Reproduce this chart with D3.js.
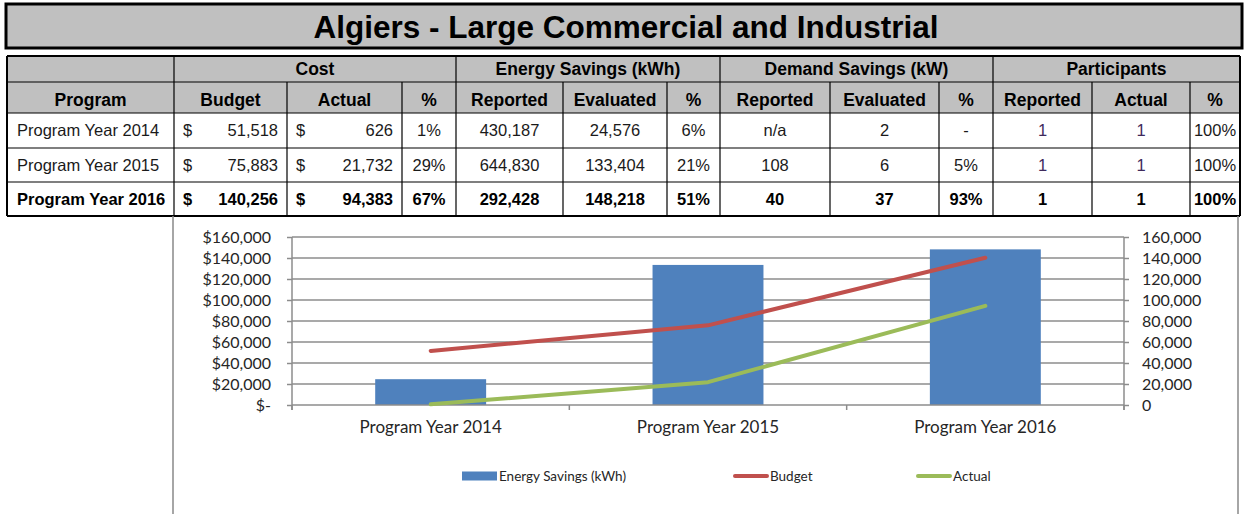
<!DOCTYPE html>
<html>
<head>
<meta charset="utf-8">
<script src="https://cdn.jsdelivr.net/npm/d3@7"></script>
<style>
  body { margin: 0; background: #fff; }
  svg text { font-family: "Liberation Sans", Arial, sans-serif; }
  .chart text { font-family: Lato, "Open Sans", sans-serif; fill: #262626; }
</style>
</head>
<body>
<svg id="page" width="1245" height="514"></svg>
<script>
// ---- data ----
var title = "Algiers - Large Commercial and Industrial"
var categories = ["Program Year 2014", "Program Year 2015", "Program Year 2016"]
var budget = [51518, 75883, 140256]
var actual = [626, 21732, 94383]
var costPct = ["1%", "29%", "67%"]
var energyReported = [430187, 644830, 292428]
var energyEvaluated = [24576, 133404, 148218]
var energyPct = ["6%", "21%", "51%"]
var demandReported = ["n/a", "108", "40"]
var demandEvaluated = ["2", "6", "37"]
var demandPct = ["-", "5%", "93%"]
var partReported = ["1", "1", "1"]
var partActual = ["1", "1", "1"]
var partPct = ["100%", "100%", "100%"]
var groupHeaders = ["", "Cost", "Energy Savings (kWh)", "Demand Savings (kW)", "Participants"]
var subHeaders = ["Program", "Budget", "Actual", "%", "Reported", "Evaluated", "%", "Reported", "Evaluated", "%", "Reported", "Actual", "%"]
var leftTicks = [0, 20000, 40000, 60000, 80000, 100000, 120000, 140000, 160000]
var legendItems = ["Energy Savings (kWh)", "Budget", "Actual"]

var svg = d3.select("#page")
var fmt = d3.format(",")

// title box
svg.append("rect").attr("x", 6).attr("y", 4).attr("width", 1236).attr("height", 44)
   .attr("fill", "#c0c0c0").attr("stroke", "#000").attr("stroke-width", 3)
svg.append("text").attr("x", 626).attr("y", 27).attr("dy", ".36em")
   .attr("text-anchor", "middle").attr("font-size", 31.5).attr("font-weight", "bold")
   .text(title)

// ---- table ----
var colX = [7, 174, 287, 402, 456, 563, 667, 720, 830, 939, 993, 1092, 1190, 1240]
var rowY = [56, 82, 113, 148, 182, 216]
var groupSpan = [[0, 1], [1, 4], [4, 7], [7, 10], [10, 13]]

var table = svg.append("g")

// header backgrounds
table.append("rect").attr("x", colX[0]).attr("y", rowY[0])
     .attr("width", colX[13] - colX[0]).attr("height", rowY[2] - rowY[0]).attr("fill", "#c0c0c0")

table.selectAll(".grp").data(groupHeaders).enter().append("text")
     .attr("x", function(d, i) { return (colX[groupSpan[i][0]] + colX[groupSpan[i][1]]) / 2 })
     .attr("y", (rowY[0] + rowY[1]) / 2).attr("dy", ".36em")
     .attr("text-anchor", "middle").attr("font-size", 17.5).attr("font-weight", "bold")
     .text(function(d) { return d })

table.selectAll(".sub").data(subHeaders).enter().append("text")
     .attr("x", function(d, i) { return (colX[i] + colX[i + 1]) / 2 })
     .attr("y", (rowY[1] + rowY[2]) / 2 + 2).attr("dy", ".36em")
     .attr("text-anchor", "middle").attr("font-size", 17.5).attr("font-weight", "bold")
     .text(function(d) { return d })

// body rows
var rows = categories.map(function(c, i) {
    return [c, fmt(budget[i]), fmt(actual[i]), costPct[i], fmt(energyReported[i]), fmt(energyEvaluated[i]),
            energyPct[i], demandReported[i], demandEvaluated[i], demandPct[i], partReported[i], partActual[i], partPct[i]]
})

rows.forEach(function(r, ri) {
    var cy = (rowY[ri + 2] + rowY[ri + 3]) / 2
    var bold = ri == 2
    var g = table.append("g").attr("font-size", 16.5).attr("font-weight", bold ? "bold" : "normal")
                 .attr("fill", bold ? "#000" : "#1a1a1a")
    r.forEach(function(v, ci) {
        var t = g.append("text").attr("y", cy).attr("dy", ".36em").text(v)
        if (ci == 0) {
            t.attr("x", colX[0] + 10)
        } else if (ci == 1 || ci == 2) {
            t.attr("x", colX[ci + 1] - 9).attr("text-anchor", "end")
            g.append("text").attr("x", colX[ci] + 9).attr("y", cy).attr("dy", ".36em").text("$")
        } else {
            t.attr("x", (colX[ci] + colX[ci + 1]) / 2).attr("text-anchor", "middle")
            if (!bold && (ci == 10 || ci == 11)) t.attr("fill", "#3f2a5c")
        }
    })
})

// grid lines of the table
table.selectAll(".hl").data(rowY).enter().append("line")
     .attr("x1", colX[0]).attr("x2", colX[13])
     .attr("y1", function(d) { return d }).attr("y2", function(d) { return d })
     .attr("stroke", "#000").attr("stroke-width", function(d, i) { return (i == 0 || i == 5) ? 2 : 1.2 })

colX.forEach(function(x, i) {
    var isGroup = [0, 1, 4, 7, 10, 13].indexOf(i) >= 0
    table.append("line").attr("x1", x).attr("x2", x)
         .attr("y1", isGroup ? rowY[0] : rowY[1]).attr("y2", rowY[5])
         .attr("stroke", "#000").attr("stroke-width", (i == 0 || i == 13) ? 2 : 1.2)
})

// ---- chart ----
var chart = svg.append("g").attr("class", "chart")

chart.append("line").attr("x1", 173).attr("x2", 173).attr("y1", 216).attr("y2", 514)
     .attr("stroke", "#888").attr("stroke-width", 1.5)
chart.append("line").attr("x1", 1238).attr("x2", 1238).attr("y1", 216).attr("y2", 514)
     .attr("stroke", "#888").attr("stroke-width", 1.5)

var x = d3.scaleBand().domain(categories).range([292, 1124]).paddingInner(0.6).paddingOuter(0.3)
var step = x.step()
var y = d3.scaleLinear().domain([0, 160000]).range([405, 237])

// gridlines
chart.selectAll(".grid").data(leftTicks.slice(1)).enter().append("line")
     .attr("x1", 292).attr("x2", 1124)
     .attr("y1", function(d) { return y(d) }).attr("y2", function(d) { return y(d) })
     .attr("stroke", "#8c8c8c").attr("stroke-width", 1.5)

// bars (energy savings evaluated, right axis)
chart.selectAll(".bar").data(energyEvaluated).enter().append("rect")
     .attr("x", function(d, i) { return x(categories[i]) })
     .attr("y", function(d) { return y(d) })
     .attr("width", x.bandwidth())
     .attr("height", function(d) { return y(0) - y(d) })
     .attr("fill", "#4f81bd")

// axes
var yLeft = d3.axisLeft(y).tickValues(leftTicks).tickSize(5).tickPadding(16)
              .tickFormat(function(d) { return d == 0 ? "$-" : "$" + fmt(d) })
var gl = chart.append("g").attr("transform", "translate(292,0)").call(yLeft)

var yRight = d3.axisRight(y).tickValues(leftTicks).tickSize(5).tickPadding(13)
               .tickFormat(function(d) { return fmt(d) })
var gr = chart.append("g").attr("transform", "translate(1124,0)").call(yRight)

var xAxis = d3.axisBottom(x).tickSize(0).tickPadding(16)
var gx = chart.append("g").attr("transform", "translate(0,405)").call(xAxis)

;[gl, gr, gx].forEach(function(g) {
    g.select(".domain").attr("stroke", "#8c8c8c").attr("stroke-width", 1.5)
    g.selectAll(".tick line").attr("stroke", "#8c8c8c").attr("stroke-width", 1.5)
    g.selectAll("text").attr("font-size", 16).attr("font-family", "Lato, sans-serif").attr("fill", "#262626")
})
gx.selectAll("text").attr("font-size", 17)
gl.select(".domain").attr("d", "M0,237V410")
gr.select(".domain").attr("d", "M0,237V410")
gx.select(".domain").attr("d", "M292,0H1124")

// category boundary ticks
chart.selectAll(".ctick").data(d3.range(categories.length + 1)).enter().append("line")
     .attr("x1", function(d) { return 292 + d * step }).attr("x2", function(d) { return 292 + d * step })
     .attr("y1", 405).attr("y2", 410)
     .attr("stroke", "#8c8c8c").attr("stroke-width", 1.5)

// lines
var line = d3.line()
             .x(function(d, i) { return x(categories[i]) + x.bandwidth() / 2 })
             .y(function(d) { return y(d) })

chart.append("path").datum(budget).attr("d", line).attr("fill", "none")
     .attr("stroke", "#c0504d").attr("stroke-width", 4).attr("stroke-linejoin", "round").attr("stroke-linecap", "round")
chart.append("path").datum(actual).attr("d", line).attr("fill", "none")
     .attr("stroke", "#9bbb59").attr("stroke-width", 4).attr("stroke-linejoin", "round").attr("stroke-linecap", "round")

// legend
var legX = [462, 733, 916]
var legend = chart.selectAll(".leg").data(legendItems).enter().append("g")
                  .attr("transform", function(d, i) { return "translate(" + legX[i] + ",476)" })

legend.each(function(d, i) {
    var g = d3.select(this)
    if (i == 0) {
        g.append("rect").attr("x", 0).attr("y", -4.5).attr("width", 35).attr("height", 9).attr("fill", "#4f81bd")
    } else {
        g.append("line").attr("x1", 2).attr("x2", 34).attr("y1", 0).attr("y2", 0)
         .attr("stroke", i == 1 ? "#c0504d" : "#9bbb59").attr("stroke-width", 4).attr("stroke-linecap", "round")
    }
    g.append("text").attr("x", 37).attr("y", 0).attr("dy", ".35em")
     .attr("font-size", 13.5).text(d)
})
</script>
</body>
</html>
